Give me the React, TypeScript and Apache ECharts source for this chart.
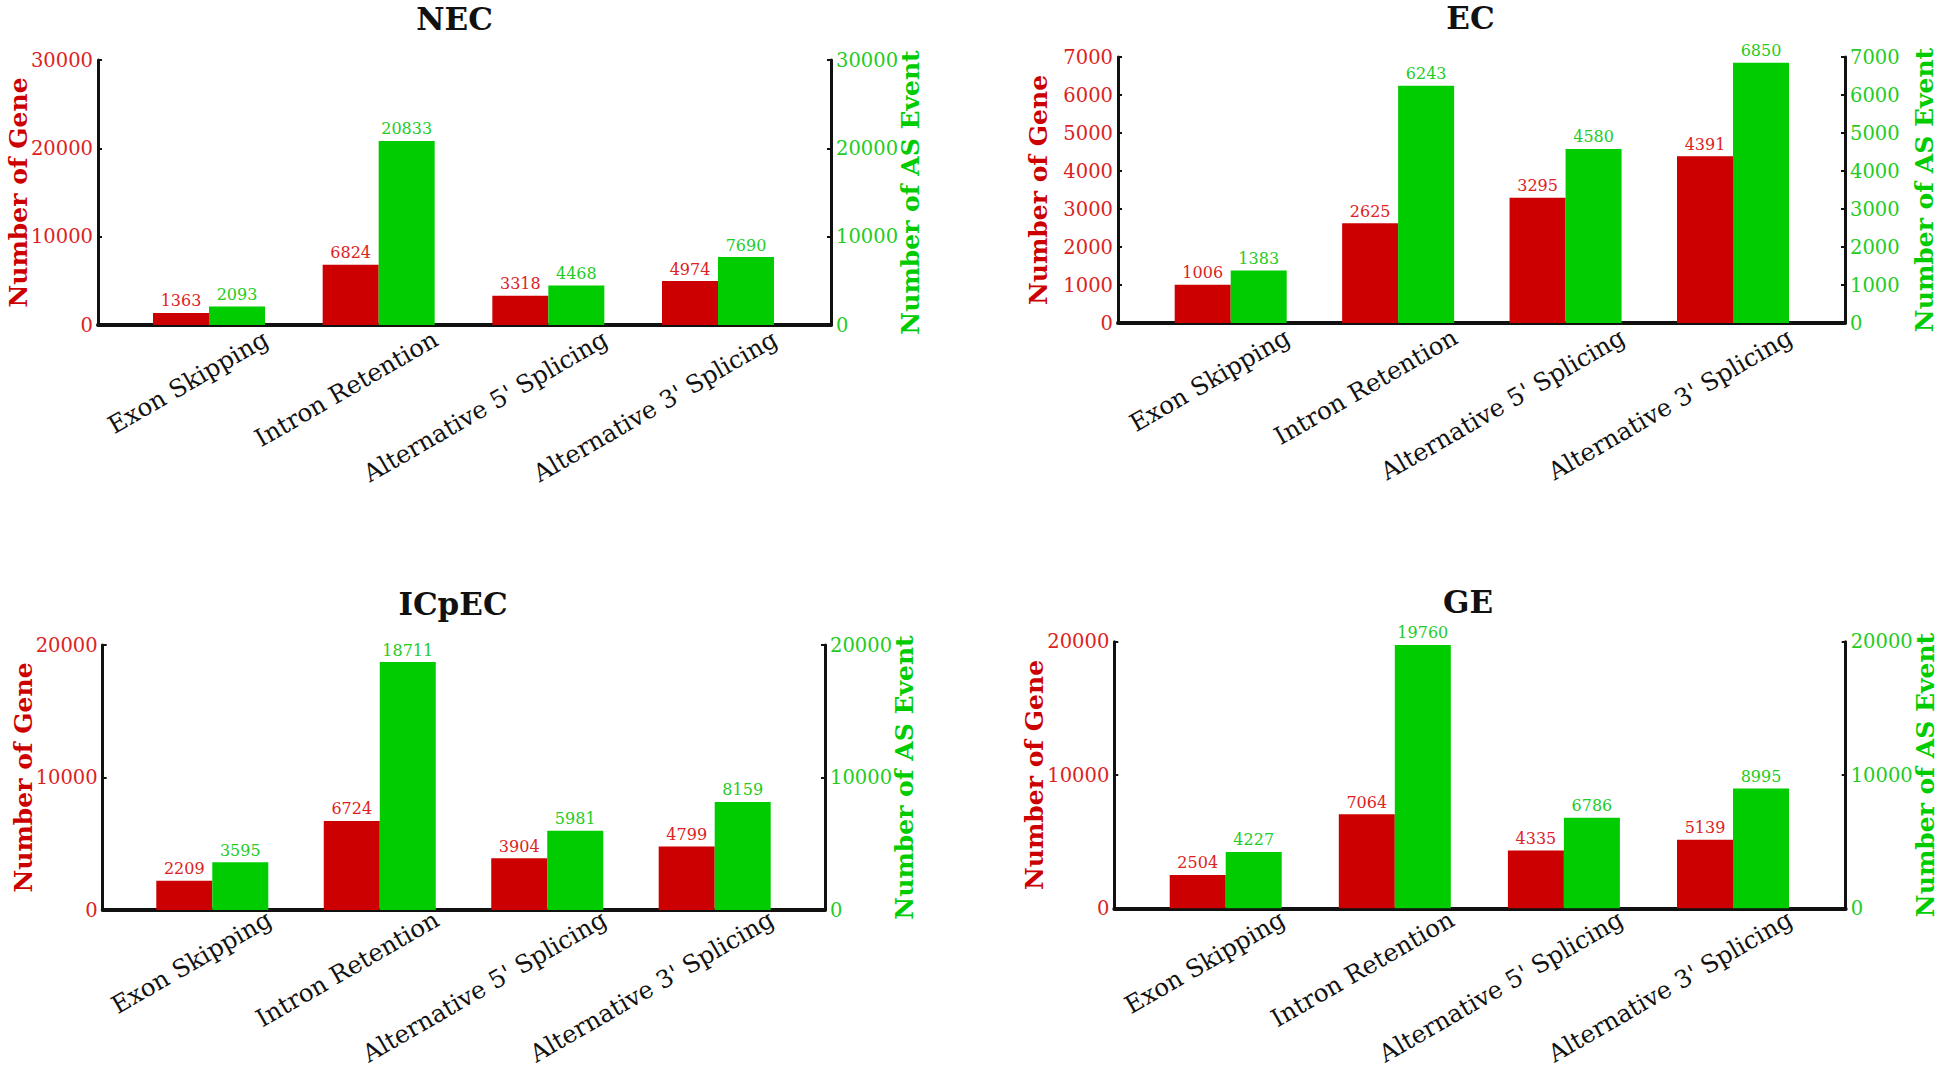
import React, { useEffect, useRef } from "react";
import * as echarts from "echarts";

const categories = ["Exon Skipping", "Intron Retention", "Alternative 5' Splicing", "Alternative 3' Splicing"];

const panelTitles = ["NEC", "EC", "ICpEC", "GE"];
const necGenes = [1363, 6824, 3318, 4974];
const necEvents = [2093, 20833, 4468, 7690];
const ecGenes = [1006, 2625, 3295, 4391];
const ecEvents = [1383, 6243, 4580, 6850];
const icpecGenes = [2209, 6724, 3904, 4799];
const icpecEvents = [3595, 18711, 5981, 8159];
const geGenes = [2504, 7064, 4335, 5139];
const geEvents = [4227, 19760, 6786, 8995];
const axisMax = [30000, 7000, 20000, 20000];
const axisInterval = [10000, 1000, 10000, 10000];

const geneSeries = [necGenes, ecGenes, icpecGenes, geGenes];
const eventSeries = [necEvents, ecEvents, icpecEvents, geEvents];

// layout (pixels): frame left/right/top/bottom, first & last bar-pair centre, title centre
const layouts = [
  { l: 98, r: 831, t: 60, b: 325, c1: 209, c4: 718, tx: 454.5, ty: 19 },
  { l: 1118, r: 1845, t: 57, b: 323, c1: 1230.7, c4: 1733, tx: 1470.5, ty: 18 },
  { l: 102.7, r: 825, t: 645, b: 910, c1: 212.3, c4: 714.7, tx: 453, ty: 604 },
  { l: 1114.3, r: 1845.7, t: 641.7, b: 908.3, c1: 1225.7, c4: 1733, tx: 1468, ty: 602 },
];

const RED = "#cc0000";
const GREEN = "#00cc00";
const RED_TXT = "#dd2222";
const GREEN_TXT = "#1fcc1f";
const SERIF = "DejaVu Serif";
const LABEL_SHIFT = 57;

function buildOption() {
  const grid: any[] = [];
  const xAxis: any[] = [];
  const yAxis: any[] = [];
  const series: any[] = [];
  const graphic: any[] = [];

  layouts.forEach((L, p) => {
    const sp = (L.c4 - L.c1) / 3;
    const bLeft = L.c1 - sp / 2;
    const bWidth = sp * 4;
    const h = L.b - L.t;
    grid.push({ left: L.l, top: L.t, width: L.r - L.l, height: h });
    grid.push({ left: bLeft, top: L.t, width: bWidth, height: h });
    grid.push({ left: bLeft + LABEL_SHIFT, top: L.t, width: bWidth, height: h });
    const g0 = p * 3;
    // frame x axis (bottom line)
    xAxis.push({
      gridIndex: g0, type: "category", data: categories,
      axisLine: { show: true, onZero: false, lineStyle: { color: "#111", width: 4 } },
      axisTick: { show: false }, axisLabel: { show: false }, splitLine: { show: false },
    });
    // bar x axis
    xAxis.push({
      gridIndex: g0 + 1, type: "category", data: categories,
      axisLine: { show: false, onZero: false }, axisTick: { show: false },
      axisLabel: { show: false }, splitLine: { show: false },
    });
    // label x axis
    xAxis.push({
      gridIndex: g0 + 2, type: "category", data: categories,
      axisLine: { show: false, onZero: false }, axisTick: { show: false }, splitLine: { show: false },
      axisLabel: {
        show: true, interval: 0, rotate: 30, margin: 12,
        color: "#111", fontFamily: SERIF, fontSize: 24.5,
      },
    });
    const common = (color: string) => ({
      type: "value", min: 0, max: axisMax[p], interval: axisInterval[p],
      axisLine: { show: true, lineStyle: { color: "#111", width: 3 } },
      axisTick: { show: true, inside: true, length: 4, lineStyle: { color: "#111", width: 2 } },
      splitLine: { show: false },
      axisLabel: {
        color, fontFamily: SERIF, fontSize: 19.5, margin: 5, padding: [0, 0, 12, 0],
        formatter: (v: number) => String(v),
      },
      nameLocation: "middle", nameRotate: 90, nameGap: 67, nameMoveOverlap: false,
    });
    yAxis.push({ gridIndex: g0, type: "value", show: false });
    yAxis.push({
      ...common(RED_TXT), gridIndex: g0 + 1, position: "left", offset: bLeft - L.l,
      name: "Number of Gene",
      nameTextStyle: { color: RED, fontFamily: SERIF, fontWeight: "bold", fontSize: 25 },
    });
    yAxis.push({
      ...common(GREEN_TXT), gridIndex: g0 + 1, position: "right", offset: L.r - (bLeft + bWidth),
      name: "Number of AS Event",
      nameTextStyle: { color: GREEN, fontFamily: SERIF, fontWeight: "bold", fontSize: 25 },
    });
    yAxis.push({ gridIndex: g0 + 2, type: "value", show: false });

    const labelStyle = (color: string) => ({
      show: true, position: "top", distance: 4, color, fontFamily: SERIF, fontSize: 16,
    });
    series.push({
      type: "bar", name: "Number of Gene", xAxisIndex: g0 + 1, yAxisIndex: p * 4 + 1,
      data: geneSeries[p], barWidth: 56, barGap: "0%",
      itemStyle: { color: RED }, label: labelStyle(RED_TXT),
    });
    series.push({
      type: "bar", name: "Number of AS Event", xAxisIndex: g0 + 1, yAxisIndex: p * 4 + 2,
      data: eventSeries[p], barWidth: 56, barGap: "0%",
      itemStyle: { color: GREEN }, label: labelStyle(GREEN_TXT),
    });

    graphic.push({
      type: "text", x: L.tx, y: L.ty,
      style: {
        text: panelTitles[p], fill: "#111",
        font: `bold 31px "${SERIF}"`,
        textAlign: "center", textVerticalAlign: "middle",
        align: "center", verticalAlign: "middle",
      },
    });
  });

  return {
    animation: false,
    backgroundColor: "#ffffff",
    grid, xAxis, yAxis, series, graphic,
  };
}

export default function App() {
  const ref = useRef<HTMLDivElement>(null);
  useEffect(() => {
    if (!ref.current) return;
    const chart = echarts.init(ref.current, undefined, { renderer: "svg" });
    chart.setOption(buildOption() as any);
    return () => chart.dispose();
  }, []);
  return (
    <div
      ref={ref}
      style={{ position: "absolute", left: 0, top: 0, width: 1946, height: 1068, background: "#fff" }}
    />
  );
}
